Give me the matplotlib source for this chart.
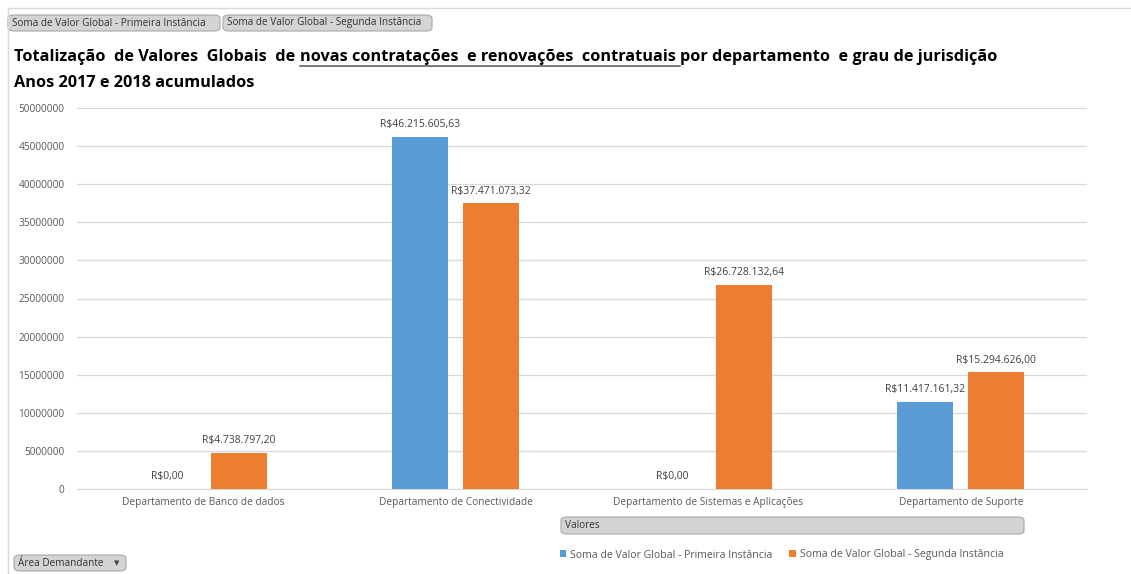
import matplotlib.pyplot as plt
import numpy as np
from matplotlib.patches import FancyBboxPatch
from matplotlib.lines import Line2D

plt.rcParams['font.family'] = ['Open Sans', 'DejaVu Sans']

departamentos = ['Departamento de Banco de dados', 'Departamento de Conectividade',
                 'Departamento de Sistemas e Aplicações', 'Departamento de Suporte']
primeira = [0.00, 46215605.63, 0.00, 11417161.32]
segunda = [4738797.20, 37471073.32, 26728132.64, 15294626.00]
serie_nomes = ['Soma de Valor Global - Primeira Instância', 'Soma de Valor Global - Segunda Instância']
yticks = np.arange(0, 50000001, 5000000)

W, H = 1131, 574
fig = plt.figure(figsize=(W / 100, H / 100), dpi=100)
ax = fig.add_axes([77 / W, 1 - 489 / H, (1087 - 77) / W, (489 - 108) / H])

blue, orange = '#5B9BD5', '#ED7D31'
x = np.arange(len(departamentos))
bw, off = 0.222, 0.141

def brl(v):
    s = f'{v:,.2f}'.replace(',', 'X').replace('.', ',').replace('X', '.')
    return 'R$' + s

b1 = ax.bar(x - off, primeira, bw, color=blue, label=serie_nomes[0], zorder=3)
b2 = ax.bar(x + off, segunda, bw, color=orange, label=serie_nomes[1], zorder=3)
for bars, vals in ((b1, primeira), (b2, segunda)):
    for r, v in zip(bars, vals):
        ax.annotate(brl(v), (r.get_x() + r.get_width() / 2, v), xytext=(0, 5),
                    textcoords='offset points', ha='center', va='bottom',
                    fontsize=7.5, color='#404040')

ax.set_xlim(-0.5, len(departamentos) - 0.5)
ax.set_ylim(0, 50000000)
ax.set_yticks(yticks)
ax.set_yticklabels([str(v) for v in yticks])
ax.set_xticks(x)
ax.set_xticklabels(departamentos)
ax.tick_params(axis='both', length=0, labelsize=7.3, labelcolor='#595959')
ax.tick_params(axis='y', pad=9)
ax.tick_params(axis='x', pad=6)
ax.grid(axis='y', color='#d9d9d9', linewidth=0.9, zorder=0)
for s in ['top', 'right', 'left']:
    ax.spines[s].set_visible(False)
ax.spines['bottom'].set_color('#d9d9d9')

# outer frame
fig.add_artist(Line2D([8 / W, 1], [1 - 8 / H, 1 - 8 / H], color='#d9d9d9', lw=1))
fig.add_artist(Line2D([8 / W, 8 / W], [0, 1 - 8 / H], color='#d9d9d9', lw=1))

def button(x0, y0, x1, y1, label, arrow=False):
    p = FancyBboxPatch((x0 / W, 1 - y1 / H), (x1 - x0) / W, (y1 - y0) / H,
                       boxstyle='round,pad=0,rounding_size=0.006',
                       transform=fig.transFigure, facecolor='#d4d4d4',
                       edgecolor='#a8a8a8', lw=0.8)
    fig.add_artist(p)
    fig.text((x0 + 4) / W, 1 - (y0 + y1) / 2 / H, label, fontsize=7.2,
             color='#333333', va='center', ha='left')
    if arrow:
        fig.text((x1 - 9) / W, 1 - (y0 + y1) / 2 / H, '▼', fontsize=5,
                 color='#444444', va='center', ha='center', family='DejaVu Sans')

button(8, 15, 220, 31, serie_nomes[0])
button(223, 15, 432, 31, serie_nomes[1])
button(561, 517, 1024, 534, 'Valores')
button(14, 555, 126, 571, 'Área Demandante', arrow=True)

# title with underlined part
tfs = 11.7
t1 = fig.text(14 / W, 1 - 65 / H, 'Totalização  de Valores  Globais  de ', fontsize=tfs,
              fontweight='bold', va='bottom', ha='left', color='black')
t2 = ax.annotate('novas contratações  e renovações  contratuais ', xy=(1, 0), xycoords=t1,
                 fontsize=tfs, fontweight='bold', va='bottom', ha='left', color='black',
                 annotation_clip=False)
t3 = ax.annotate('por departamento  e grau de jurisdição', xy=(1, 0), xycoords=t2,
                 fontsize=tfs, fontweight='bold', va='bottom', ha='left', color='black',
                 annotation_clip=False)
fig.text(14 / W, 1 - 91 / H, 'Anos 2017 e 2018 acumulados', fontsize=tfs,
         fontweight='bold', va='bottom', ha='left', color='black')

fig.canvas.draw()
bb = t2.get_window_extent()
yl = (1 - 65.5 / H)
fig.add_artist(Line2D([bb.x0 / W, bb.x1 / W], [yl, yl], color='#555555', lw=1.1))

fig.legend(handles=[b1, b2], labels=serie_nomes, loc='center left', ncol=2,
           bbox_to_anchor=(550 / W, 1 - 555 / H), frameon=False, fontsize=7.6,
           handlelength=0.6, handleheight=0.6, columnspacing=1.6, handletextpad=0.4,
           labelcolor='#595959')

fig.savefig('out.png', dpi=100)
